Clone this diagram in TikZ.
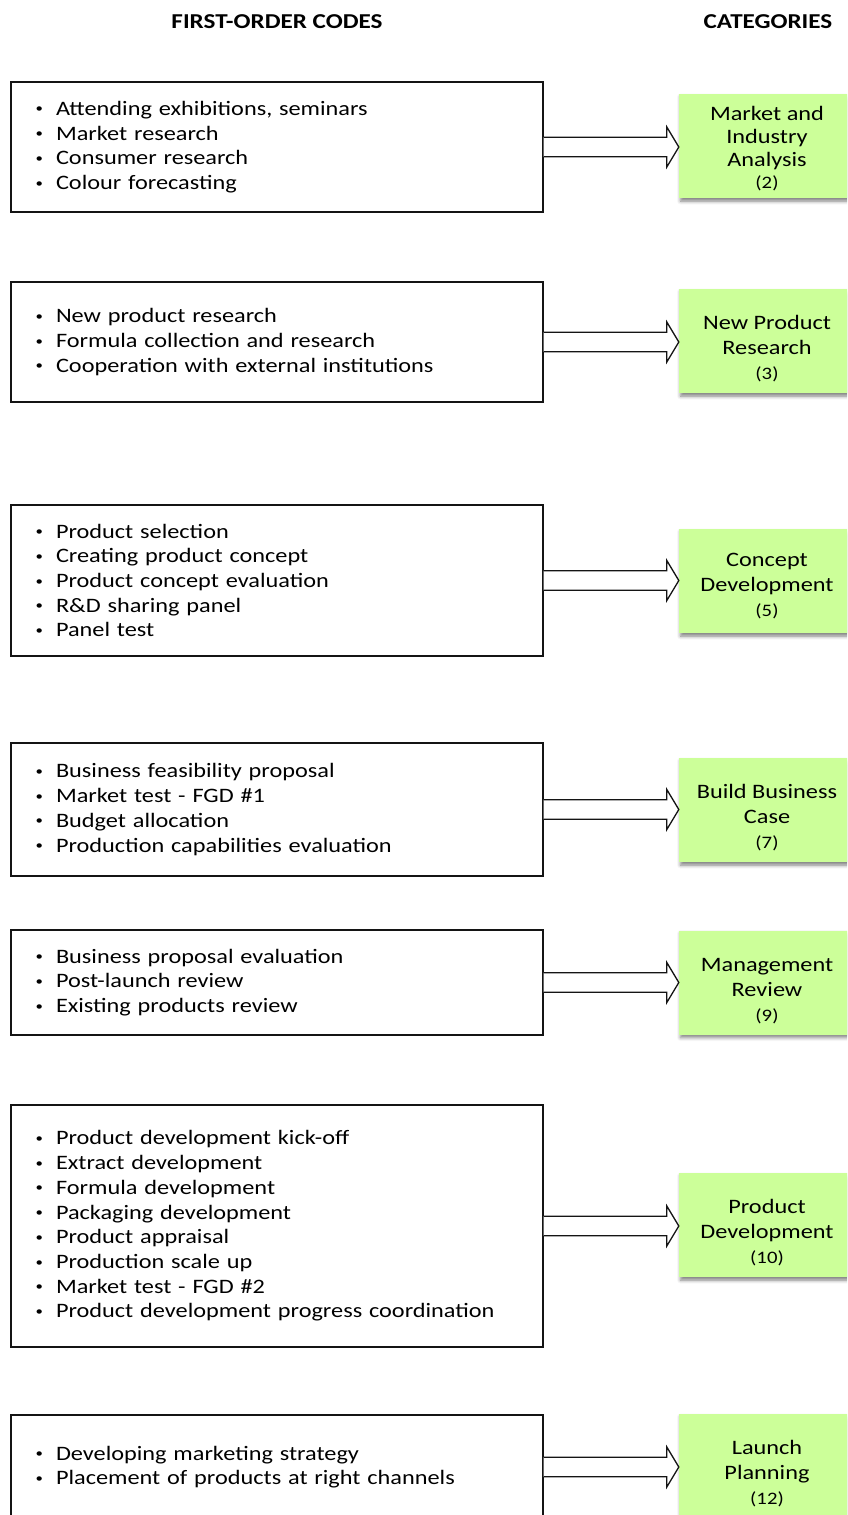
\documentclass[tikz,border=0pt]{standalone}
\usepackage{fontspec}
\setmainfont{Carlito}[FakeStretch=1.185]
\usetikzlibrary{calc,shadows.blur}
\definecolor{catgreen}{RGB}{204,255,153}
\definecolor{inkline}{RGB}{20,20,20}
% bullet item: small dot followed by the code text
\newcommand{\bul}{\makebox[21pt][l]{\hspace{0.5pt}\raisebox{2.4pt}{\fontsize{12.5}{12.5}\selectfont •}}}
\newcommand{\num}[1]{{\fontsize{17.5}{18}\selectfont #1}}
\begin{document}
\begin{tikzpicture}[x=1pt,y=-1pt,
  header/.style={font=\fontsize{21.2}{24}\selectfont\bfseries},
  codebox/.style={draw=inkline, line width=1.3pt, fill=white, text width=484pt,
    inner xsep=24pt, inner ysep=0pt, align=left,
    font=\fontsize{20.5}{24.7}\selectfont},
  catbox/.style={fill=catgreen, minimum width=176pt, minimum height=104pt, inner sep=0pt,
    blur shadow={shadow xshift=1.5pt, shadow yshift=-3pt, shadow blur radius=3.5pt, shadow opacity=50}},
  cattext/.style={align=center, inner sep=0pt, font=\fontsize{20.5}{25}\selectfont},
  flow/.style={draw=inkline, line width=1.3pt, fill=white, line join=miter}
]
\useasboundingbox (0,0) rectangle (847,1515);
\clip (0,0) rectangle (847,1515);

% column headings
\node[header] (h1) at (277,22) {FIRST-ORDER CODES};
\node[header] (h2) at (768,22) {CATEGORIES};

% first-order code boxes
\node[codebox, minimum height=130pt] (c1) at (277,147) {\bul Attending exhibitions, seminars\\\bul Market research\\\bul Consumer research\\\bul Colour forecasting};
\node[codebox, minimum height=120pt] (c2) at (277,342) {\bul New product research\\\bul Formula collection and research\\\bul Cooperation with external institutions};
\node[codebox, minimum height=151pt] (c3) at (277,580.5) {\bul Product selection\\\bul Creating product concept\\\bul Product concept evaluation\\\bul R\&D sharing panel\\\bul Panel test};
\node[codebox, minimum height=133pt] (c4) at (277,809.5) {\bul Business feasibility proposal\\\bul Market test - FGD \#1\\\bul Budget allocation\\\bul Production capabilities evaluation};
\node[codebox, minimum height=105pt] (c5) at (277,982.5) {\bul Business proposal evaluation\\\bul Post-launch review\\\bul Existing products review};
\node[codebox, minimum height=242pt] (c6) at (277,1226) {\bul Product development kick-off\\\bul Extract development\\\bul Formula development\\\bul Packaging development\\\bul Product appraisal\\\bul Production scale up\\\bul Market test - FGD \#2\\\bul Product development progress coordination};
\node[codebox, minimum height=104pt] (c7) at (277,1467) {\bul Developing marketing strategy\\\bul Placement of products at right channels};

% category boxes
\node[catbox] (k1) at (767,146) {};
\node[catbox] (k2) at (767,341) {};
\node[catbox] (k3) at (767,581) {};
\node[catbox] (k4) at (767,810) {};
\node[catbox] (k5) at (767,982.5) {};
\node[catbox] (k6) at (767,1225) {};
\node[catbox] (k7) at (767,1466) {};

% category labels
\node[cattext, font=\fontsize{20.5}{22.7}\selectfont] (t1) at ($(k1.center)+(0,3)$) {Market and\\Industry\\Analysis\\\num{(2)}};
\node[cattext] (t2) at ($(k2.center)+(0,8)$) {New Product\\Research\\\num{(3)}};
\node[cattext] (t3) at ($(k3.center)+(0,5.5)$) {Concept\\Development\\\num{(5)}};
\node[cattext] (t4) at ($(k4.center)+(0,7.5)$) {Build Business\\Case\\\num{(7)}};
\node[cattext] (t5) at ($(k5.center)+(0,8.5)$) {Management\\Review\\\num{(9)}};
\node[cattext] (t6) at ($(k6.center)+(0,8)$) {Product\\Development\\\num{(10)}};
\node[cattext] (t7) at ($(k7.center)+(0,7.5)$) {Launch\\Planning\\\num{(12)}};

% block arrows from each code box to its category
\foreach \i in {1,...,7}{
  \draw[flow] ($(c\i.east)+(0,-9.8)$) -- ($(k\i.west|-c\i.east)+(-12,-9.8)$)
    -- ($(k\i.west|-c\i.east)+(-12,-20)$) -- (k\i.west|-c\i.east)
    -- ($(k\i.west|-c\i.east)+(-12,20)$) -- ($(k\i.west|-c\i.east)+(-12,9.8)$)
    -- ($(c\i.east)+(0,9.8)$);
}
\end{tikzpicture}
\end{document}
